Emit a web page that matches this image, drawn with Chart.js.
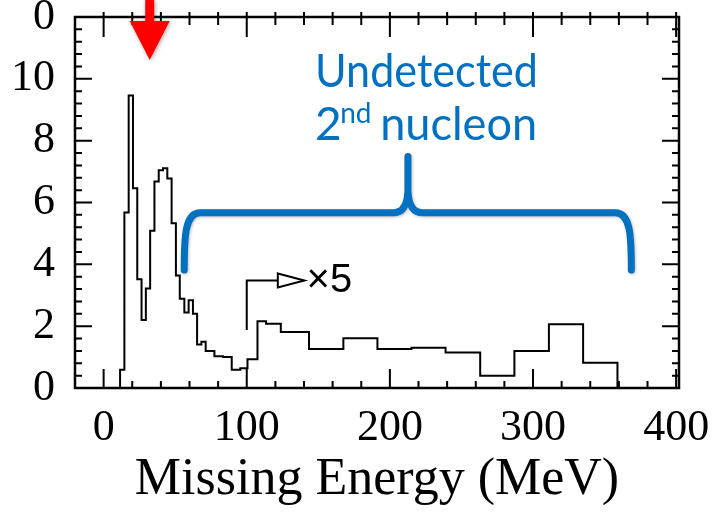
<!DOCTYPE html>
<html>
<head>
<meta charset="utf-8">
<script src="https://cdn.jsdelivr.net/npm/chart.js@4.4.1/dist/chart.umd.min.js"></script>
<style>
  html, body { margin: 0; padding: 0; background: #fff; }
  #wrap { width: 715px; height: 513px; }
</style>
</head>
<body>
<div id="wrap"><canvas id="chart" width="715" height="513"></canvas></div>
<script>
// histogram bins (MeV): left edges, last entry closes the final bin
const binEdges = [11.5, 14.5, 17.5, 20.5, 23.5, 26.5, 29.5, 32.5, 35.5, 38.5, 41.5, 44.5,
  47.5, 50.5, 53.2, 56.4, 59.4, 62.4, 65.3, 68.3, 71.3, 77.4, 83.4, 89.5, 95.5, 100.5,
  107.5, 113.5, 123.8, 143.5, 167.5, 191.3, 215.1, 238.9, 263.1, 287.0, 311.1, 335.0, 359.0];
const counts = [0.59, 5.68, 9.46, 6.46, 3.52, 2.2, 3.22, 5.09, 6.68, 7.04, 7.11, 6.78,
  5.33, 3.64, 2.89, 2.44, 2.84, 2.4, 1.41, 1.5, 1.2, 1.03, 1.0, 0.59, 0.64,
  0.93, 2.16, 2.08, 1.81, 1.26, 1.61, 1.26, 1.3, 1.15, 0.4, 1.2, 2.06, 0.82];

const xTicks = [0, 100, 200, 300, 400];
const yTicks = [0, 2, 4, 6, 8, 10, 12];
const yTickLabels = ["0", "2", "4", "6", "8", "10", "0"];

const histPoints = [{ x: binEdges[0], y: 0 }];
binEdges.forEach((e, i) => histPoints.push({ x: e, y: i < counts.length ? counts[i] : 0 }));

const BLUE = "#0070C0";

const decorations = {
  id: "decorations",
  afterDraw(chart) {
    const ctx = chart.ctx;
    const a = chart.chartArea;
    const sx = chart.scales.x, sy = chart.scales.y;
    const px = v => sx.getPixelForValue(v);
    const py = v => sy.getPixelForValue(v);
    ctx.save();

    // frame
    ctx.strokeStyle = "#000";
    ctx.lineWidth = 2.5;
    ctx.strokeRect(a.left, a.top, a.right - a.left, a.bottom - a.top);

    // inward ticks
    ctx.lineWidth = 2;
    ctx.beginPath();
    for (let v = 0; v <= 400; v += 20) {
      const x = px(v);
      const major = v % 100 === 0;
      ctx.moveTo(x, a.bottom); ctx.lineTo(x, a.bottom - (major ? 19 : 7));
      ctx.moveTo(x, a.top - 5); ctx.lineTo(x, a.top + (major ? 20 : 8));
    }
    for (let k = 1; k < 30; k++) {
      const v = k * 0.4;
      const y = py(v);
      const major = k % 5 === 0;
      ctx.moveTo(a.left, y); ctx.lineTo(a.left + (major ? 17 : 7), y);
      ctx.moveTo(a.right, y); ctx.lineTo(a.right - (major ? 17 : 7), y);
    }
    ctx.stroke();

    // x5 marker
    ctx.lineWidth = 2;
    ctx.beginPath();
    ctx.moveTo(px(100), py(1.88));
    ctx.lineTo(px(100), py(3.48));
    ctx.lineTo(px(121.7), py(3.48));
    ctx.stroke();
    ctx.beginPath();
    ctx.moveTo(px(121.7), py(3.48) - 7);
    ctx.lineTo(px(140.3), py(3.48));
    ctx.lineTo(px(121.7), py(3.48) + 7);
    ctx.closePath();
    ctx.fillStyle = "#fff";
    ctx.fill();
    ctx.stroke();
    ctx.fillStyle = "#000";
    ctx.font = "40px 'Liberation Sans'";
    ctx.textAlign = "left";
    ctx.textBaseline = "middle";
    ctx.fillText("\u00d75", px(141.8), py(3.48) + 1);

    // red arrow
    const ax = px(32.2);
    ctx.fillStyle = "#ff0000";
    ctx.shadowColor = "rgba(0,0,0,0.35)";
    ctx.shadowBlur = 4;
    ctx.shadowOffsetX = 1;
    ctx.shadowOffsetY = 1;
    ctx.beginPath();
    ctx.moveTo(ax - 4.5, 0);
    ctx.lineTo(ax + 4.5, 0);
    ctx.lineTo(ax + 4.5, 21);
    ctx.lineTo(ax + 20, 21);
    ctx.lineTo(ax, 60);
    ctx.lineTo(ax - 20, 21);
    ctx.lineTo(ax - 4.5, 21);
    ctx.closePath();
    ctx.fill();

    // blue brace
    const xL = px(56.3), xP = px(212.6), xR = px(368.7);
    const yE = py(3.82), yH = py(5.67), yT = py(7.49);
    ctx.strokeStyle = BLUE;
    ctx.lineWidth = 7;
    ctx.lineCap = "round";
    ctx.lineJoin = "round";
    ctx.shadowColor = "rgba(0,0,0,0.25)";
    ctx.shadowBlur = 3;
    ctx.beginPath();
    ctx.moveTo(xL, yE);
    ctx.bezierCurveTo(xL, yE - 35, xL + 1, yH, xL + 16, yH);
    ctx.lineTo(xP - 14, yH);
    ctx.quadraticCurveTo(xP - 1, yH, xP, yH - 22);
    ctx.lineTo(xP, yT);
    ctx.moveTo(xP, yH - 22);
    ctx.quadraticCurveTo(xP + 1, yH, xP + 14, yH);
    ctx.lineTo(xR - 16, yH);
    ctx.bezierCurveTo(xR - 1, yH, xR, yE - 35, xR, yE);
    ctx.stroke();

    // brace label
    ctx.shadowColor = "transparent";
    ctx.fillStyle = BLUE;
    ctx.textBaseline = "alphabetic";
    ctx.textAlign = "left";
    ctx.font = "46px Lato";
    ctx.fillText("Undetected", px(147.7), py(9.75), 223);
    ctx.fillText("2", px(147.7), py(8.03));
    ctx.font = "28px Lato";
    ctx.fillText("nd", px(165.3), py(8.57));
    ctx.font = "46px Lato";
    ctx.fillText("nucleon", px(193.2), py(8.03), 157);

    ctx.restore();
  }
};

new Chart(document.getElementById("chart"), {
  type: "line",
  data: {
    datasets: [{
      data: histPoints,
      stepped: true,
      borderColor: "#000",
      borderWidth: 2,
      pointRadius: 0,
      fill: false,
      tension: 0
    }]
  },
  options: {
    responsive: false,
    animation: false,
    devicePixelRatio: 1,
    layout: { padding: { top: 17, right: 36, left: 0, bottom: 0 } },
    plugins: { legend: { display: false }, tooltip: { enabled: false } },
    scales: {
      x: {
        type: "linear",
        min: -20,
        max: 402,
        grid: { display: false, drawTicks: false },
        border: { display: false },
        afterBuildTicks: s => { s.ticks = xTicks.map(v => ({ value: v })); },
        afterFit: s => { s.height = 125; s.paddingLeft = 0; s.paddingRight = 0; },
        ticks: {
          color: "#000",
          padding: 14,
          maxRotation: 0,
          font: { family: "'Liberation Serif'", size: 44 }
        },
        title: {
          display: true,
          text: "Missing Energy (MeV)",
          color: "#000",
          font: { family: "'Liberation Serif'", size: 52 },
          padding: { top: 0, bottom: 1 }
        }
      },
      y: {
        min: 0,
        max: 12,
        grid: { display: false, drawTicks: false },
        border: { display: false },
        afterBuildTicks: s => { s.ticks = yTicks.map(v => ({ value: v })); },
        afterFit: s => { s.width = 75; s.paddingTop = 0; s.paddingBottom = 0; },
        ticks: {
          color: "#000",
          padding: 20,
          font: { family: "'Liberation Serif'", size: 44 },
          callback: v => yTickLabels[yTicks.indexOf(v)]
        }
      }
    }
  },
  plugins: [decorations]
});
</script>
</body>
</html>
